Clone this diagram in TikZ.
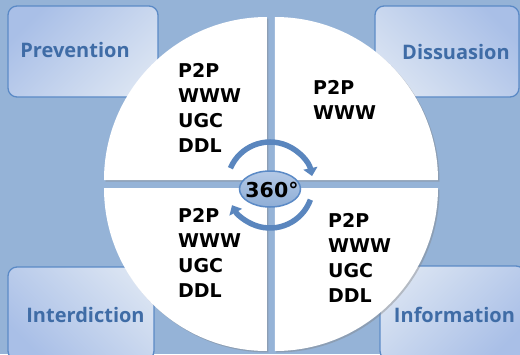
\documentclass[tikz,border=0pt]{standalone}
\usepackage{fontspec}
\setmainfont{Open Sans}
\newfontfamily\listenfont{DejaVu Sans}
\usepackage{tikz}
\usetikzlibrary{arrows.meta,shadows,shapes.geometric,positioning}
\definecolor{hgBlau}{HTML}{95B3D7}
\definecolor{boxDunkel}{HTML}{A9BFE7}
\definecolor{boxHell}{HTML}{D9E3F2}
\definecolor{rahmenBlau}{HTML}{5B8AC6}
\definecolor{schriftBlau}{HTML}{3F6CA6}
\definecolor{pfeilBlau}{HTML}{5A86BE}
\definecolor{ovalHell}{HTML}{B4C9E6}
\definecolor{ovalDunkel}{HTML}{8FAED6}
\tikzset{
  ecke/.style={draw=rahmenBlau, line width=1.3pt, rounded corners=9pt},
  eckText/.style={font=\bfseries\fontsize{20}{24}\selectfont, text=schriftBlau, anchor=base, inner sep=0pt},
  liste/.style={font=\listenfont\bfseries\fontsize{19}{25}\selectfont, align=left, anchor=north west, inner sep=0pt},
  pfeil/.style={line width=5.5pt, draw=pfeilBlau, -{Triangle[width=14pt,length=8pt]}},
  viertel/.style={fill=white, drop shadow={opacity=0.4, shadow xshift=1.5pt, shadow yshift=-1.5pt}},
}
\begin{document}
\begin{tikzpicture}[x=1pt,y=1pt]
%Ursprung = Mitte des Kreises, alles in pt (1pt = 1px)
  \pgfmathsetmacro{\R}{163}
  \pgfmathsetmacro{\g}{4}
  \pgfmathsetmacro{\rP}{43}
  \fill[hgBlau] (-271,-170) rectangle (249,184);
  \useasboundingbox (-271,-170) rectangle (249,184);
%Ecken, Verlauf dunkel nach aussen
  \draw[ecke, top color=boxDunkel, bottom color=boxHell, shading angle=45] (-263,87) rectangle (-113,178);
  \draw[ecke, top color=boxDunkel, bottom color=boxHell, shading angle=-45] (104,87) rectangle (248,178);
  \draw[ecke, top color=boxDunkel, bottom color=boxHell, shading angle=135] (-263,-176) rectangle (-117,-83);
  \draw[ecke, top color=boxDunkel, bottom color=boxHell, shading angle=-135] (109,-176) rectangle (254,-82);
%vier Viertel mit Spalt 2*g
\foreach \sx/\sy/\a in {1/1/0,-1/1/90,-1/-1/180,1/-1/270}{
\path[viertel] (\sx*\g,\sy*\g) -- ++(\a:\R) arc (\a:\a+90:\R) -- cycle;
}
  \coordinate (mitte) at (-1,-1);
  \draw[pfeil] (mitte) ++(157:\rP) arc (157:12:\rP);
  \draw[pfeil] (mitte) ++(-20:\rP) arc (-20:-152:\rP);
  \node[ellipse, draw=rahmenBlau, line width=1.5pt, top color=ovalHell, bottom color=ovalDunkel, minimum width=61pt, minimum height=36pt, inner sep=0pt] (gradOval) at (-1,-5) {};
  \node[font=\listenfont\bfseries\fontsize{20.5}{24}\selectfont, inner sep=0pt] (gradText) at ([xshift=2pt,yshift=-1pt]gradOval.center) {360°};
  \node[liste] (listeOL) at (-93,121) {P2P\\WWW\\UGC\\DDL};
  \node[liste] (listeOR) at (42,104) {P2P\\WWW};
  \node[liste] (listeUL) at (-93,-24) {P2P\\WWW\\UGC\\DDL};
  \node[liste] (listeUR) at (57,-29) {P2P\\WWW\\UGC\\DDL};
  \node[eckText] (praev) at (-196,127) {Prevention};
  \node[eckText] (diss) at (185,125) {Dissuasion};
  \node[eckText] (inter) at (-185.5,-138) {Interdiction};
  \node[eckText] (info) at (183.5,-138) {Information};
\end{tikzpicture}
\end{document}
